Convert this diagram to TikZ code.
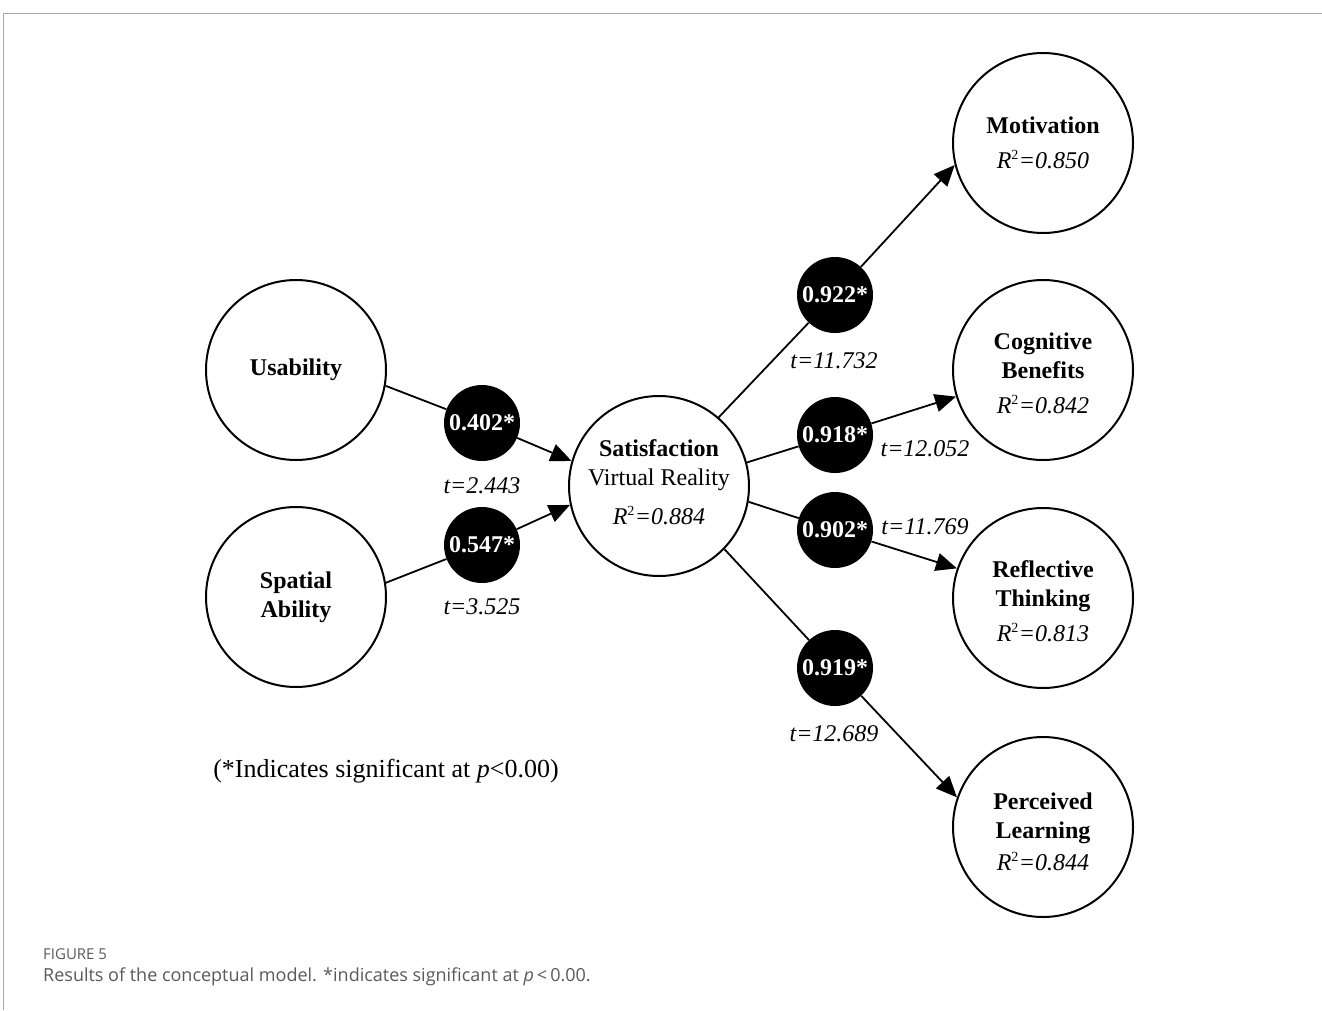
\documentclass[tikz,border=0pt]{standalone}
\usepackage{fontspec}
\setmainfont{Liberation Serif}
\newfontfamily\capfont{Open Sans}
\usetikzlibrary{arrows.meta}
\definecolor{framegray}{HTML}{A8A8A8}
\definecolor{capgray}{HTML}{5A5A5A}
\tikzset{
  construct/.style={circle, draw=black, line width=2pt, fill=white, minimum size=180pt, inner sep=0pt, align=center, font=\fontsize{24}{29}\selectfont},
  coef/.style={circle, fill=black, minimum size=76pt, inner sep=0pt, text=white, font=\fontsize{24}{29}\selectfont\bfseries},
  tval/.style={font=\fontsize{24}{29}\selectfont\itshape, inner sep=0pt},
  path/.style={line width=1.8pt, draw=black},
  arr/.style={path, -{Triangle[length=21pt,width=18pt]}},
}
\newcommand{\rsq}[1]{{\itshape R\textsuperscript{\upshape\fontsize{14}{14}\selectfont 2}=#1}}
\begin{document}
\begin{tikzpicture}[x=1pt,y=-1pt]
\useasboundingbox (0,0) rectangle (1322,1010);
\fill[white] (0,0) rectangle (1322,1010);
\draw[framegray, line width=1.5pt] (3.5,1010) -- (3.5,13.5) -- (1322,13.5);

% constructs
\node[construct] (U) at (296,370) {\textbf{Usability}};
\node[construct] (Sp) at (296,597) {\textbf{Spatial}\\\textbf{Ability}};
\node[construct] (S) at (659,486) {\textbf{Satisfaction}\\Virtual Reality\\[10pt]\rsq{0.884}\\[-22pt]\mbox{}};
\node[construct] (M) at (1043,143) {\textbf{Motivation}\\[6pt]\rsq{0.850}};
\node[construct] (C) at (1043,370) {\textbf{Cognitive}\\\textbf{Benefits}\\[6pt]\rsq{0.842}\\[-35pt]\mbox{}};
\node[construct] (R) at (1043,598) {\textbf{Reflective}\\\textbf{Thinking}\\[6pt]\rsq{0.813}\\[-35pt]\mbox{}};
\node[construct] (P) at (1043,827) {\textbf{Perceived}\\\textbf{Learning}\\[3pt]\rsq{0.844}\\[-38pt]\mbox{}};

% coefficients
\node[coef] (d1) at (482,423) {0.402*};
\node[coef] (d2) at (482,545) {0.547*};
\node[coef] (d3) at (835,295) {0.922*};
\node[coef] (d4) at (835,435) {0.918*};
\node[coef] (d5) at (835,530) {0.902*};
\node[coef] (d6) at (835,668) {0.919*};

% paths
\draw[path] (U.350) -- (d1);
\draw[arr] (d1) -- (S.164);
\draw[path] (Sp.9) -- (d2);
\draw[arr] (d2) -- (S.192);
\draw[path] (S.49) -- (d3);
\draw[arr] (d3) -- (M.194);
\draw[path] (S.15) -- (d4);
\draw[arr] (d4) -- (C.197);
\draw[path] (S.350) -- (d5);
\draw[arr] (d5) -- (R.161);
\draw[path] (S.316) -- (d6);
\draw[arr] (d6) -- (P.161);

% t values
\node[tval] (t1) at (482,486) {t=2.443};
\node[tval] (t2) at (482,607) {t=3.525};
\node[tval] (t3) at (834,361) {t=11.732};
\node[tval] (t4) at (925,449) {t=12.052};
\node[tval] (t5) at (925,527) {t=11.769};
\node[tval] (t6) at (834,734) {t=12.689};

% note
\node[font=\fontsize{26}{30}\selectfont, inner sep=0pt] (note) at (386,771) {(*Indicates significant at \textit{p}<0.00)};

% caption
\node[anchor=west, text=capgray, font=\capfont\fontsize{15}{17}\selectfont, inner sep=0pt] (fig) at (43,954) {FIGURE 5};
\node[anchor=west, text=capgray, font=\capfont\fontsize{18}{22}\selectfont, inner sep=0pt] (cap) at (43,977) {Results of the conceptual model. *indicates significant at \textit{p}\,<\,0.00.};
\end{tikzpicture}
\end{document}
